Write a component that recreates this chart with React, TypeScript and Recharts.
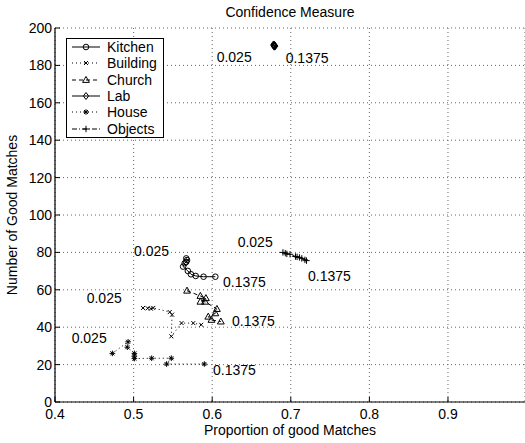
import { ScatterChart, Scatter, XAxis, YAxis, CartesianGrid, Legend } from 'recharts'

const FONT = '"Liberation Sans", Arial, Helvetica, sans-serif'

// one value per threshold, 0.025 ... 0.1375
const kitchenX = [0.567, 0.568, 0.567, 0.565, 0.563, 0.569, 0.573, 0.579, 0.589, 0.604]
const kitchenY = [76.8, 75.9, 74.9, 74.2, 72.4, 70.1, 68.3, 67.4, 67.0, 67.0]

const buildingX = [0.512, 0.518, 0.522, 0.525, 0.546, 0.549, 0.548, 0.561, 0.576, 0.586]
const buildingY = [50.3, 50.1, 49.9, 50.3, 48.1, 46.7, 35.1, 42.2, 42.2, 41.3]

const churchX = [0.568, 0.585, 0.592, 0.585, 0.591, 0.606, 0.604, 0.595, 0.599, 0.611]
const churchY = [59.5, 56.7, 55.5, 53.6, 53.6, 49.7, 47.4, 45.6, 43.9, 43.0]

const labX = [0.678, 0.679, 0.679, 0.68, 0.679, 0.678, 0.679, 0.68, 0.679, 0.679]
const labY = [191.2, 190.8, 190.5, 190.2, 190.0, 190.6, 191.0, 190.4, 190.7, 190.3]

const houseX = [0.473, 0.493, 0.492, 0.501, 0.501, 0.501, 0.523, 0.548, 0.542, 0.59]
const houseY = [26.0, 32.2, 29.3, 26.0, 24.5, 23.2, 23.4, 23.4, 20.3, 20.3]

const objectsX = [0.69, 0.693, 0.695, 0.699, 0.706, 0.708, 0.711, 0.714, 0.718, 0.72]
const objectsY = [80.0, 79.6, 79.2, 79.0, 77.8, 77.6, 77.3, 76.8, 76.0, 75.6]

// threshold annotations (text starts at x, vertically centred on y)
const noteText = ['0.025', '0.1375', '0.025', '0.1375', '0.025', '0.1375', '0.1375', '0.025', '0.025', '0.1375']
const noteX = [0.6057, 0.6935, 0.6324, 0.7219, 0.5005, 0.6137, 0.6252, 0.4403, 0.4212, 0.601]
const noteY = [184.5, 184.0, 85.8, 67.4, 80.7, 64.2, 43.6, 55.9, 34.5, 17.1]

const xTicks = [0.4, 0.5, 0.6, 0.7, 0.8, 0.9]
const yTicks = [0, 20, 40, 60, 80, 100, 120, 140, 160, 180, 200]

const zip = (xs: number[], ys: number[]) => xs.map((x, i) => ({ x, y: ys[i] }))

type Mark = 'circle' | 'x' | 'triangle' | 'diamond' | 'star' | 'plus'

function Marker({ kind, cx, cy }: { kind: Mark; cx: number; cy: number }) {
  const s = { stroke: '#000', strokeWidth: 1, fill: 'none' }
  switch (kind) {
    case 'circle':
      return <circle cx={cx} cy={cy} r={2.8} {...s} />
    case 'x':
      return (
        <g {...s}>
          <line x1={cx - 2} y1={cy - 2} x2={cx + 2} y2={cy + 2} />
          <line x1={cx - 2} y1={cy + 2} x2={cx + 2} y2={cy - 2} />
        </g>
      )
    case 'triangle':
      return <path d={`M${cx},${cy - 3.6}L${cx + 3.4},${cy + 2.4}L${cx - 3.4},${cy + 2.4}Z`} {...s} />
    case 'diamond':
      return <path d={`M${cx},${cy - 3.5}L${cx + 2.6},${cy}L${cx},${cy + 3.5}L${cx - 2.6},${cy}Z`} {...s} />
    case 'star':
      return (
        <g {...s}>
          <line x1={cx - 2.8} y1={cy} x2={cx + 2.8} y2={cy} />
          <line x1={cx} y1={cy - 2.8} x2={cx} y2={cy + 2.8} />
          <line x1={cx - 2} y1={cy - 2} x2={cx + 2} y2={cy + 2} />
          <line x1={cx - 2} y1={cy + 2} x2={cx + 2} y2={cy - 2} />
        </g>
      )
    default:
      return (
        <g {...s}>
          <line x1={cx - 3.2} y1={cy} x2={cx + 3.2} y2={cy} />
          <line x1={cx} y1={cy - 3.2} x2={cx} y2={cy + 3.2} />
        </g>
      )
  }
}

const series: { name: string; data: { x: number; y: number }[]; mark: Mark; dash?: string }[] = [
  { name: 'Kitchen', data: zip(kitchenX, kitchenY), mark: 'circle' },
  { name: 'Building', data: zip(buildingX, buildingY), mark: 'x', dash: '1 3' },
  { name: 'Church', data: zip(churchX, churchY), mark: 'triangle', dash: '4 3' },
  { name: 'Lab', data: zip(labX, labY), mark: 'diamond' },
  { name: 'House', data: zip(houseX, houseY), mark: 'star', dash: '1 3' },
  { name: 'Objects', data: zip(objectsX, objectsY), mark: 'plus', dash: '5 2 1 2' },
]

const notes = noteText.map((text, i) => ({ x: noteX[i], y: noteY[i], text }))

function LegendBox() {
  return (
    <div
      style={{
        width: 98,
        border: '1px solid #000',
        background: '#fff',
        fontFamily: FONT,
        fontSize: 14,
        boxSizing: 'border-box',
        color: '#000',
      }}
    >
      {series.map((s) => (
        <div key={s.name} style={{ display: 'flex', alignItems: 'center', height: 16.3 }}>
          <svg width={40} height={16} style={{ flex: 'none' }}>
            <line x1={5} x2={33} y1={8} y2={8} stroke="#000" strokeDasharray={s.dash} />
            <Marker kind={s.mark} cx={19} cy={8} />
          </svg>
          <span style={{ lineHeight: '16px' }}>{s.name}</span>
        </div>
      ))}
    </div>
  )
}

const tickStyle = { fill: '#000', fontSize: 14, fontFamily: FONT }

export default function App() {
  return (
    <div style={{ position: 'absolute', left: 0, top: 0, width: 525, height: 443, background: '#fff', overflow: 'hidden' }}>
      <ScatterChart width={525} height={443} margin={{ top: 28, right: 0, bottom: 0, left: 0 }}>
        <CartesianGrid stroke="#666" strokeDasharray="1 3" />
        <XAxis
          type="number"
          dataKey="x"
          domain={[0.4, 0.998]}
          ticks={xTicks}
          allowDataOverflow
          height={41}
          tickSize={-5}
          tickMargin={12}
          axisLine={{ stroke: '#000', strokeWidth: 1.2 }}
          tickLine={{ stroke: '#000' }}
          tick={tickStyle}
        />
        <XAxis
          xAxisId="top"
          orientation="top"
          type="number"
          dataKey="x"
          domain={[0.4, 0.998]}
          ticks={xTicks}
          allowDataOverflow
          height={0}
          tick={false}
          tickSize={-5}
          axisLine={{ stroke: '#000', strokeWidth: 1.2 }}
          tickLine={{ stroke: '#000' }}
        />
        <YAxis
          type="number"
          dataKey="y"
          domain={[0, 200]}
          ticks={yTicks}
          allowDataOverflow
          width={55}
          tickSize={-5}
          tickMargin={8}
          axisLine={{ stroke: '#000', strokeWidth: 1.2 }}
          tickLine={{ stroke: '#000' }}
          tick={tickStyle}
        />
        <Legend
          layout="vertical"
          align="center"
          verticalAlign="middle"
          wrapperStyle={{ left: 66, top: 38, width: 98 }}
          content={() => <LegendBox />}
        />
        {series.map((s) => (
          <Scatter
            key={s.name}
            name={s.name}
            data={s.data}
            fill="none"
            line={{ stroke: '#000', strokeWidth: 1, strokeDasharray: s.dash }}
            lineType="joint"
            isAnimationActive={false}
            shape={(p: any) => <Marker kind={s.mark} cx={p.cx} cy={p.cy} />}
          />
        ))}
        <Scatter
          name="notes"
          data={notes}
          isAnimationActive={false}
          shape={(p: any) => (
            <text x={p.cx} y={p.cy} dy="0.36em" fontSize={14} fontFamily={FONT} fill="#000">
              {p.payload.text}
            </text>
          )}
        />
      </ScatterChart>
      <div
        style={{
          position: 'absolute',
          left: 55,
          width: 470,
          top: 3,
          lineHeight: '18px',
          textAlign: 'center',
          fontFamily: FONT,
          fontSize: 14,
          color: '#000',
        }}
      >
        Confidence Measure
      </div>
      <div
        style={{
          position: 'absolute',
          left: 55,
          width: 470,
          top: 421,
          lineHeight: '18px',
          textAlign: 'center',
          fontFamily: FONT,
          fontSize: 14,
          color: '#000',
        }}
      >
        Proportion of good Matches
      </div>
      <div
        style={{
          position: 'absolute',
          left: 12,
          top: 215,
          transform: 'translate(-50%, -50%) rotate(-90deg)',
          whiteSpace: 'nowrap',
          lineHeight: '18px',
          fontFamily: FONT,
          fontSize: 14,
          color: '#000',
        }}
      >
        Number of Good Matches
      </div>
    </div>
  )
}
